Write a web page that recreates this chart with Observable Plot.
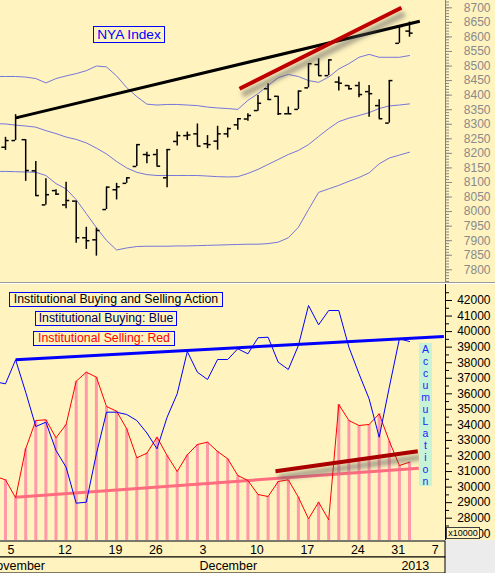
<!DOCTYPE html>
<html>
<head>
<meta charset="utf-8">
<script src="https://cdn.jsdelivr.net/npm/d3@7"></script>
<script src="https://cdn.jsdelivr.net/npm/@observablehq/plot@0.6"></script>
<style>
  html, body { margin: 0; padding: 0; background: #fff3bf; }
  #chart { position: relative; width: 495px; height: 573px; overflow: hidden; background: #fff3bf;
           font-family: Arial, "Liberation Sans", Helvetica, sans-serif; }
  #chart svg { display: block; }
  .sep { height: 1px; background: #9a9a9a; border-bottom: 1px solid #ffffff; }
  .lbl { position: absolute; box-sizing: border-box; border: 1px solid #0000ff; background: #fff3bf;
         white-space: nowrap; display: flex; align-items: center; justify-content: center; line-height: 1; }
  .accum { position: absolute; background: #c7f3d6; color: #2323ff; text-align: center; }
  .accum span { display: block; height: 12.06px; line-height: 12.06px; font-size: 10.5px; }
  .mult { position: absolute; box-sizing: border-box; border: 1px solid #404040; background: #fff3bf;
          font-size: 9px; display: flex; align-items: center; justify-content: center; color: #000; }
</style>
</head>
<body>
<div id="chart"></div>
<script>
// ---------------- data ----------------
const dates = [
  "2012-11-01","2012-11-02","2012-11-05","2012-11-06","2012-11-07","2012-11-08","2012-11-09",
  "2012-11-12","2012-11-13","2012-11-14","2012-11-15","2012-11-16",
  "2012-11-19","2012-11-20","2012-11-21","2012-11-23",
  "2012-11-26","2012-11-27","2012-11-28","2012-11-29","2012-11-30",
  "2012-12-03","2012-12-04","2012-12-05","2012-12-06","2012-12-07",
  "2012-12-10","2012-12-11","2012-12-12","2012-12-13","2012-12-14",
  "2012-12-17","2012-12-18","2012-12-19","2012-12-20","2012-12-21",
  "2012-12-24","2012-12-26","2012-12-27","2012-12-28",
  "2012-12-31","2013-01-02","2013-01-03","2013-01-04","2013-01-07","2013-01-08"
];

// NYA Index daily bars, from 2012-11-05
const barStart = "2012-11-05";
const nyaOpen  = [8221,8244,8247,8140,8023,8072,8023,8036,7910,7903,8007,8075,8097,8155,8196,8196,8116,8241,8261,8267,8233,8242,8267,8298,8318,8347,8422,8396,8336,8351,8425,8505,8467,8445,8433,8433,8412,8364,8304,8578,8620];
const nyaHigh  = [8255,8333,8247,8172,8113,8075,8101,8036,7946,7943,8084,8097,8116,8230,8204,8213,8213,8273,8273,8301,8261,8293,8287,8319,8336,8399,8439,8396,8359,8414,8508,8525,8521,8462,8433,8444,8433,8384,8450,8636,8651];
const nyaLow   = [8210,8244,8104,8053,8023,8055,8010,7891,7870,7847,8007,8040,8097,8155,8164,8156,8082,8225,8244,8225,8216,8211,8253,8279,8310,8345,8382,8330,8336,8351,8425,8467,8467,8414,8418,8391,8324,8319,8304,8578,8599];
const nyaClose = [8244,8322,8141,8055,8058,8060,8038,7910,7900,7935,8084,8085,8116,8230,8193,8156,8213,8261,8263,8225,8230,8267,8285,8319,8330,8372,8385,8336,8336,8414,8508,8467,8521,8441,8422,8402,8405,8319,8450,8636,8613];

// Bollinger bands and institutional flows, from 2012-11-02
const seriesStart = "2012-11-02";
const bandUpper  = [8464,8464,8464,8462,8457,8442,8457,8466,8474,8484,8500,8497,8466,8426,8395,8369,8366,8368,8368,8366,8364,8359,8356,8354,8351,8382,8405,8433,8460,8471,8464,8450,8444,8462,8490,8508,8530,8540,8530,8530,8530,8536];
const bandMiddle = [8302,8301,8297,8294,8290,8278,8268,8256,8248,8236,8218,8198,8172,8150,8135,8127,8124,8124,8124,8124,8124,8122,8120,8119,8120,8131,8145,8162,8179,8196,8210,8230,8258,8285,8309,8321,8330,8340,8354,8363,8366,8370];
const bandLower  = [8138,8138,8137,8136,8135,8124,8096,8078,8041,7993,7945,7901,7868,7875,7880,7881,7881,7881,7882,7882,7883,7884,7885,7886,7887,7888,7888,7890,7895,7910,7946,8007,8066,8078,8090,8104,8117,8133,8164,8184,8194,8204];
const buying  = [36770,36643,38186,36103,33897,34174,32354,31280,28965,29029,32140,34817,34817,34669,34283,33480,32463,34495,36000,38720,37389,36920,38206,38206,38894,38572,39601,39640,38032,37563,39106,41678,40437,41357,41357,38997,37286,35678,33209,36424,39537,39363];
const selling = [30682,30469,29312,32463,34283,34328,33170,34026,36810,37389,37068,35183,34881,33749,31884,32180,33209,32032,31003,32077,32740,32888,32289,31820,30746,30424,29524,29395,30360,30469,29350,27961,29029,27897,35312,34283,33961,34026,34714,32952,31389,31601];

// trend lines: [trading-day position, value]
const nyaTrendBlack = [[3.02, 8322], [43.02, 8654]];
const nyaTrendRed   = [[25.17, 8422], [41.2, 8700]];
const buyTrend      = [[3, 38186], [45.4, 39685]];
const sellTrend     = [[3, 29351], [42.92, 31216]];
const sellTrendRed  = [[28.73, 31023], [42.82, 32309]];

// axis tick values
const topMajorTicks = d3.range(7800, 8701, 50);
const topMinorTicks = d3.range(7760, 8721, 10);
const botMajorTicks = d3.range(27000, 42001, 1000);
const botMinorTicks = d3.range(27500, 42501, 1000);

// ---------------- build tables ----------------
const X_DOMAIN = [1.505, 45.564];
const Y_TOP = [7756.4, 8725.1];
const Y_BOT = [26566, 43029];

const pos = d => dates.indexOf(d);
const b0 = pos(barStart);
const bars = nyaOpen.map((o, j) => ({k: b0 + j, open: o, high: nyaHigh[j], low: nyaLow[j], close: nyaClose[j]}));
const s0 = pos(seriesStart);
const flow = buying.map((b, j) => ({k: s0 + j, buy: b, sell: selling[j], upper: bandUpper[j], mid: bandMiddle[j], lower: bandLower[j]}));
const toPts = a => a.map(([p, v]) => ({p, v}));

const parse = d3.utcParse("%Y-%m-%d");
const parsed = dates.map((d, k) => ({d: parse(d), k}));
const dayTicks = parsed.filter((e, j) => j === 0 || +d3.utcMonday.floor(e.d) !== +d3.utcMonday.floor(parsed[j - 1].d))
  .filter(e => e.k >= X_DOMAIN[0])
  .map(e => ({k: e.k, label: String(e.d.getUTCDate())}));
const monthTicks = parsed.filter((e, j) => j === 0 || e.d.getUTCMonth() !== parsed[j - 1].d.getUTCMonth())
  .map((e, j, arr) => ({k: e.k, label: (j > 0 && e.d.getUTCFullYear() !== arr[j - 1].d.getUTCFullYear()) ? String(e.d.getUTCFullYear()) : d3.utcFormat("%B")(e.d)}));

// ---------------- charts ----------------
const BG = "#fff3bf";
const fontFamily = "Arial, 'Liberation Sans', Helvetica, sans-serif";
const BAND = "#7676da";
const style = {background: "transparent", fontFamily, fontSize: "12px", overflow: "visible"};
const plain = d3.format("d");

const topChart = Plot.plot({
  width: 495, height: 282, marginLeft: 0, marginRight: 50, marginTop: 0, marginBottom: 0,
  style,
  x: {domain: X_DOMAIN, axis: null},
  y: {domain: Y_TOP, axis: null, label: null},
  marks: [
    Plot.line(flow, {x: "k", y: "upper", stroke: BAND, strokeWidth: 1, clip: true}),
    Plot.line(flow, {x: "k", y: "mid", stroke: BAND, strokeWidth: 1, clip: true}),
    Plot.line(flow, {x: "k", y: "lower", stroke: BAND, strokeWidth: 1, clip: true}),
    Plot.ruleX(bars, {x: "k", y1: "low", y2: "high", stroke: "black", strokeWidth: 1.5}),
    Plot.ruleY(bars, {y: "open", x1: d => d.k - 0.36, x2: "k", stroke: "black", strokeWidth: 1.5}),
    Plot.ruleY(bars, {y: "close", x1: "k", x2: d => d.k + 0.36, stroke: "black", strokeWidth: 1.5}),
    Plot.line(toPts(nyaTrendBlack), {x: "p", y: "v", stroke: "black", strokeWidth: 3, strokeLinecap: "butt"}),
    Plot.line(toPts(nyaTrendRed), {x: "p", y: "v", stroke: "#555", strokeOpacity: 0.5, strokeWidth: 6, dx: 3, dy: 6, strokeLinecap: "butt", ariaDescription: "shadow"}),
    Plot.line(toPts(nyaTrendRed), {x: "p", y: "v", stroke: "#c00000", strokeWidth: 4, strokeLinecap: "butt"}),
    Plot.axisY(topMinorTicks, {anchor: "right", tickSize: 3, tickFormat: () => "", color: "#8a8a8a", label: null}),
    Plot.axisY(topMajorTicks, {anchor: "right", tickSize: 6, tickPadding: 39, textAnchor: "end", tickFormat: plain, color: "#8a8a8a", fontSize: 12, label: null}),
    Plot.ruleX([X_DOMAIN[1]], {stroke: "#808080"})
  ]
});

const bottomChart = Plot.plot({
  width: 495, height: 256, marginLeft: 0, marginRight: 50, marginTop: 0, marginBottom: 0,
  style,
  x: {domain: X_DOMAIN, axis: null},
  y: {domain: Y_BOT, axis: null, label: null},
  marks: [
    Plot.ruleX(flow, {x: "k", y1: () => Y_BOT[0], y2: "sell", stroke: "#ff98a8", strokeWidth: 3, clip: true}),
    Plot.line(toPts(sellTrend), {x: "p", y: "v", stroke: "#ff6c80", strokeWidth: 3, strokeLinecap: "butt"}),
    Plot.line(flow, {x: "k", y: "sell", stroke: "#ff0000", strokeWidth: 1, clip: true}),
    Plot.line(flow, {x: "k", y: "buy", stroke: "#0000ff", strokeWidth: 1, clip: true}),
    Plot.line(toPts(buyTrend), {x: "p", y: "v", stroke: "#0000ff", strokeWidth: 3, strokeLinecap: "butt", clip: true}),
    Plot.line(toPts(sellTrendRed), {x: "p", y: "v", stroke: "#555", strokeOpacity: 0.5, strokeWidth: 6, dx: 3, dy: 6, strokeLinecap: "butt", ariaDescription: "shadow"}),
    Plot.line(toPts(sellTrendRed), {x: "p", y: "v", stroke: "#aa0000", strokeWidth: 4, strokeLinecap: "butt"}),
    Plot.axisY(botMinorTicks, {anchor: "right", tickSize: 3, tickFormat: () => "", color: "black", label: null}),
    Plot.axisY(botMajorTicks, {anchor: "right", tickSize: 6, tickPadding: 39, textAnchor: "end", tickFormat: plain, color: "black", fontSize: 12, label: null}),
    Plot.ruleX([X_DOMAIN[1]], {stroke: "black"})
  ]
});

const dateChart = Plot.plot({
  width: 495, height: 33, marginLeft: 0, marginRight: 50, marginTop: 0, marginBottom: 0,
  style: {...style, background: "#ececec"},
  x: {domain: X_DOMAIN, axis: null},
  y: {type: "band", domain: ["day", "month"], padding: 0, axis: null},
  marks: [
    Plot.cell(["day", "month"], {y: d => d, fill: BG, stroke: "black", insetLeft: -3}),
    Plot.ruleX(dayTicks, {x: "k", y: () => "day", stroke: "black"}),
    Plot.text(dayTicks, {x: "k", y: () => "day", text: "label", textAnchor: "start", dx: 2, fontSize: 12.5, fill: "black"}),
    Plot.ruleX(monthTicks, {x: "k", y: () => "month", stroke: "black"}),
    Plot.text(monthTicks, {x: "k", y: () => "month", text: "label", textAnchor: "start", dx: 2, fontSize: 12.5, fill: "black"})
  ]
});

// soft shadows
function blurShadows(svg, id) {
  const s = d3.select(svg);
  const f = s.insert("defs", ":first-child").append("filter").attr("id", id)
    .attr("x", "-20%").attr("y", "-100%").attr("width", "140%").attr("height", "300%");
  f.append("feGaussianBlur").attr("stdDeviation", 2.2);
  s.selectAll('g[aria-description="shadow"]').attr("filter", `url(#${id})`);
}
blurShadows(topChart, "shTop");
blurShadows(bottomChart, "shBot");

const root = document.getElementById("chart");
root.append(topChart);
const sep = document.createElement("div"); sep.className = "sep"; root.append(sep);
root.append(bottomChart);
root.append(dateChart);

// boxed labels
function label(text, l, t, w, h, color, size) {
  const el = document.createElement("div");
  el.className = "lbl";
  Object.assign(el.style, {left: l + "px", top: t + "px", width: w + "px", height: h + "px", color, fontSize: size + "px"});
  el.textContent = text;
  root.append(el);
}
label("NYA Index", 93, 26, 72, 17, "#0000ff", 13.7);
label("Institutional Buying and Selling Action", 9, 292, 214, 15, "#000000", 12.3);
label("Institutional Buying: Blue", 35, 311, 142, 15, "#000050", 12.3);
label("Institutional Selling: Red", 33, 331, 142, 15, "#ff0000", 12.3);

const acc = document.createElement("div");
acc.className = "accum";
Object.assign(acc.style, {left: "419px", top: "342.5px", width: "13px", height: "143.5px"});
for (const ch of "AccumuLation") { const s = document.createElement("span"); s.textContent = ch; acc.append(s); }
root.append(acc);

const mult = document.createElement("div");
mult.className = "mult";
Object.assign(mult.style, {left: "446px", top: "527px", width: "34px", height: "12px"});
mult.textContent = "x10000";
root.append(mult);
</script>
</body>
</html>
